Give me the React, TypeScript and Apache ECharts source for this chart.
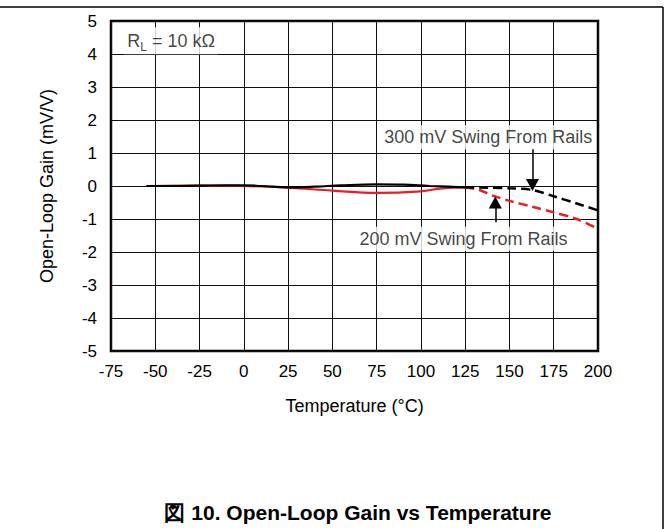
import React, { useEffect, useRef } from "react";
import * as echarts from "echarts";

// ---- data ----
const xTicks = [-75, -50, -25, 0, 25, 50, 75, 100, 125, 150, 175, 200];
const yTicks = [-5, -4, -3, -2, -1, 0, 1, 2, 3, 4, 5];

const redSolidT = [-55, -25, 0, 25, 50, 75, 100, 112, 125];
const redSolidV = [0, 0.01, 0, -0.05, -0.14, -0.21, -0.16, -0.07, -0.04];
const redDashT = [125, 133, 141, 150, 163, 175, 188, 200];
const redDashV = [-0.04, -0.12, -0.3, -0.45, -0.63, -0.8, -1.0, -1.3];

const blackSolidT = [-55, -40, -25, -10, 0, 10, 25, 40, 55, 75, 90, 105, 125];
const blackSolidV = [0, 0, 0.01, 0.02, 0.02, 0, -0.04, -0.02, 0.02, 0.05, 0.04, 0, -0.04];
const blackDashT = [125, 138, 150, 163, 175, 188, 200];
const blackDashV = [-0.04, -0.05, -0.07, -0.12, -0.31, -0.53, -0.74];

const noteTexts = ["{r|R}{s|L}{r| = 10 kΩ}", "300 mV Swing From Rails", "200 mV Swing From Rails"];
const noteX = [-67.5, 138, 124];
const noteY = [4.4, 1.48, -1.6];
const noteAlign = ["left", "center", "center"];

const arrow300 = { x: 163, from: 1.12, to: 0.03 };
const arrow200 = { x: 142, from: -1.1, to: -0.5 };

const xName = "Temperature (°C)";
const yName = "Open-Loop Gain (mV/V)";
const figTitle = "図 10. Open-Loop Gain vs Temperature";

const FONT = "'Liberation Sans', Arial, Helvetica, sans-serif";
const RED = "#ee1c25";

const zip = (a: number[], b: number[]) => a.map((v, i) => [v, b[i]]);

export default function App() {
  const ref = useRef<HTMLDivElement>(null);
  useEffect(() => {
    if (!ref.current) return;
    const chart = echarts.init(ref.current, null, { renderer: "svg" });
    chart.setOption({
      animation: false,
      backgroundColor: "#fff",
      textStyle: { fontFamily: FONT },
      grid: {
        left: 111,
        right: 71,
        top: 21,
        bottom: 178,
        show: true,
        borderColor: "#000",
        borderWidth: 2.5,
        backgroundColor: "transparent",
      },
      xAxis: {
        type: "value",
        min: xTicks[0],
        max: xTicks[xTicks.length - 1],
        interval: 25,
        name: xName,
        nameLocation: "middle",
        nameGap: 46,
        nameTextStyle: { fontSize: 18, color: "#000", fontFamily: FONT },
        axisLine: { show: false },
        axisTick: { show: false },
        axisLabel: { fontSize: 17, color: "#000", margin: 12, fontFamily: FONT },
        splitLine: { show: true, lineStyle: { color: "#111", width: 1 } },
      },
      yAxis: {
        type: "value",
        min: yTicks[0],
        max: yTicks[yTicks.length - 1],
        interval: 1,
        name: yName,
        nameLocation: "middle",
        nameGap: 55,
        nameTextStyle: { fontSize: 18, color: "#000", fontFamily: FONT },
        axisLine: { show: false },
        axisTick: { show: false },
        axisLabel: { fontSize: 17, color: "#000", margin: 14, fontFamily: FONT },
        splitLine: { show: true, lineStyle: { color: "#111", width: 1 } },
      },
      series: [
        {
          type: "line",
          data: zip(redSolidT, redSolidV),
          smooth: 0.4,
          showSymbol: false,
          lineStyle: { color: RED, width: 2.2 },
          z: 3,
        },
        {
          type: "line",
          data: zip(redDashT, redDashV),
          smooth: 0.3,
          showSymbol: false,
          lineStyle: { color: RED, width: 2.5, type: [9, 5] },
          z: 3,
        },
        {
          type: "line",
          data: zip(blackSolidT, blackSolidV),
          smooth: 0.4,
          showSymbol: false,
          lineStyle: { color: "#000", width: 2.2 },
          z: 4,
        },
        {
          type: "line",
          data: zip(blackDashT, blackDashV),
          smooth: 0.3,
          showSymbol: false,
          lineStyle: { color: "#000", width: 2.5, type: [9, 5] },
          z: 4,
        },
        {
          type: "scatter",
          z: 6,
          symbolSize: 0,
          silent: true,
          data: noteTexts.map((t, i) => ({
            value: [noteX[i], noteY[i]],
            label: {
              show: true,
              position: "inside",
              formatter: t,
              align: noteAlign[i],
              verticalAlign: "middle",
              fontSize: 18,
              color: "#111",
              fontFamily: FONT,
              backgroundColor: "#fff",
              padding: [3, 3],
              rich: {
                r: { fontSize: 18, color: "#111", fontFamily: FONT, lineHeight: 21 },
                s: { fontSize: 12, color: "#111", fontFamily: FONT, lineHeight: 21, padding: [12, 0, 0, 0] },
              },
            },
          })),
          markLine: {
            silent: true,
            symbol: ["none", "triangle"],
            symbolSize: [13, 12],
            label: { show: false },
            lineStyle: { color: "#000", width: 1.5, type: "solid" },
            data: [
              [{ coord: [arrow300.x, arrow300.from] }, { coord: [arrow300.x, arrow300.to] }],
              [{ coord: [arrow200.x, arrow200.from] }, { coord: [arrow200.x, arrow200.to] }],
            ],
          },
        },
      ],
      graphic: [
        { type: "line", shape: { x1: 0, y1: 7, x2: 663, y2: 7 }, style: { stroke: "#000", lineWidth: 1.5 } },
        { type: "line", shape: { x1: 663, y1: 7, x2: 663, y2: 529 }, style: { stroke: "#000", lineWidth: 1.5 } },
        {
          type: "text",
          x: 358,
          y: 512,
          style: {
            text: figTitle,
            textAlign: "center",
            textVerticalAlign: "middle",
            font: `bold 21px ${FONT}`,
            fill: "#000",
          },
        },
      ],
    });
    return () => chart.dispose();
  }, []);
  return <div ref={ref} style={{ position: "absolute", left: 0, top: 0, width: 669, height: 529 }} />;
}
